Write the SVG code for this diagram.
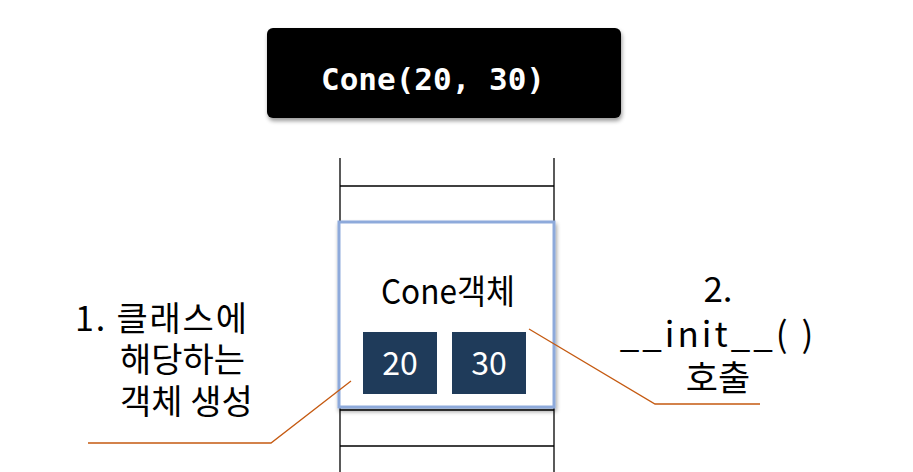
<svg xmlns="http://www.w3.org/2000/svg" width="913" height="472" viewBox="0 0 913 472">
<style>
.k{font-family:"Noto Sans CJK KR","Noto Sans",sans-serif;fill:#000}
.l{font-size:34px}
.r{font-size:35px;text-anchor:middle}
.w{font-family:"Noto Sans CJK KR","Noto Sans",sans-serif;fill:#fff;font-size:32px;text-anchor:middle}
.ln{stroke:#000;stroke-width:1.3;fill:none}
.call{stroke:#C55A11;stroke-width:1.3;fill:none}
</style>
<defs>
<filter id="sh" x="-10%" y="-10%" width="120%" height="130%">
<feGaussianBlur in="SourceAlpha" stdDeviation="2"/>
<feOffset dx="1" dy="3"/>
<feComponentTransfer><feFuncA type="linear" slope="0.4"/></feComponentTransfer>
<feMerge><feMergeNode/><feMergeNode in="SourceGraphic"/></feMerge>
</filter>
</defs>
<rect width="913" height="472" fill="#fff"/>
<g id="call-code">
<rect x="267" y="28" width="354" height="90" rx="6" fill="#000" filter="url(#sh)"/>
<text x="433" y="90" font-family="DejaVu Sans Mono,monospace" font-size="31" font-weight="bold" fill="#fff" text-anchor="middle">Cone(20, 30)</text>
</g>
<g id="memory">
<line class="ln" x1="340" y1="158" x2="340" y2="472"/>
<line class="ln" x1="554" y1="158" x2="554" y2="472"/>
<line class="ln" x1="340" y1="186" x2="554" y2="186"/>
<line class="ln" x1="340" y1="410" x2="554" y2="410"/>
<line class="ln" x1="340" y1="446" x2="554" y2="446"/>
</g>
<g id="cone-object">
<rect x="339" y="222" width="215" height="185" fill="#fff" stroke="#8EAADB" stroke-width="3" filter="url(#sh)"/>
<text class="k" x="381" y="304" font-size="34" textLength="134" lengthAdjust="spacingAndGlyphs">Cone객체</text>
</g>
<g id="val-20">
<rect x="363" y="332" width="74" height="62" fill="#1F3B5A"/>
<text class="w" x="400" y="375">20</text>
</g>
<g id="val-30">
<rect x="452" y="332" width="74" height="62" fill="#1F3B5A"/>
<text class="w" x="489" y="375">30</text>
</g>
<g id="label-1">
<text class="k l" x="75" y="331" textLength="172">1. 클래스에</text>
<text class="k l" x="120" y="372">해당하는</text>
<text class="k l" x="120" y="414">객체 생성</text>
</g>
<g id="label-2">
<text class="k r" x="718" y="302">2.</text>
<text class="k r" x="718" y="347" letter-spacing="3">__init__( )</text>
<text class="k r" x="718" y="391">호출</text>
</g>
<g id="connectors">
<polyline class="call" points="88,443 271,443 351,381"/>
<polyline class="call" points="529,329 655,404 760,404"/>
</g>
</svg>
